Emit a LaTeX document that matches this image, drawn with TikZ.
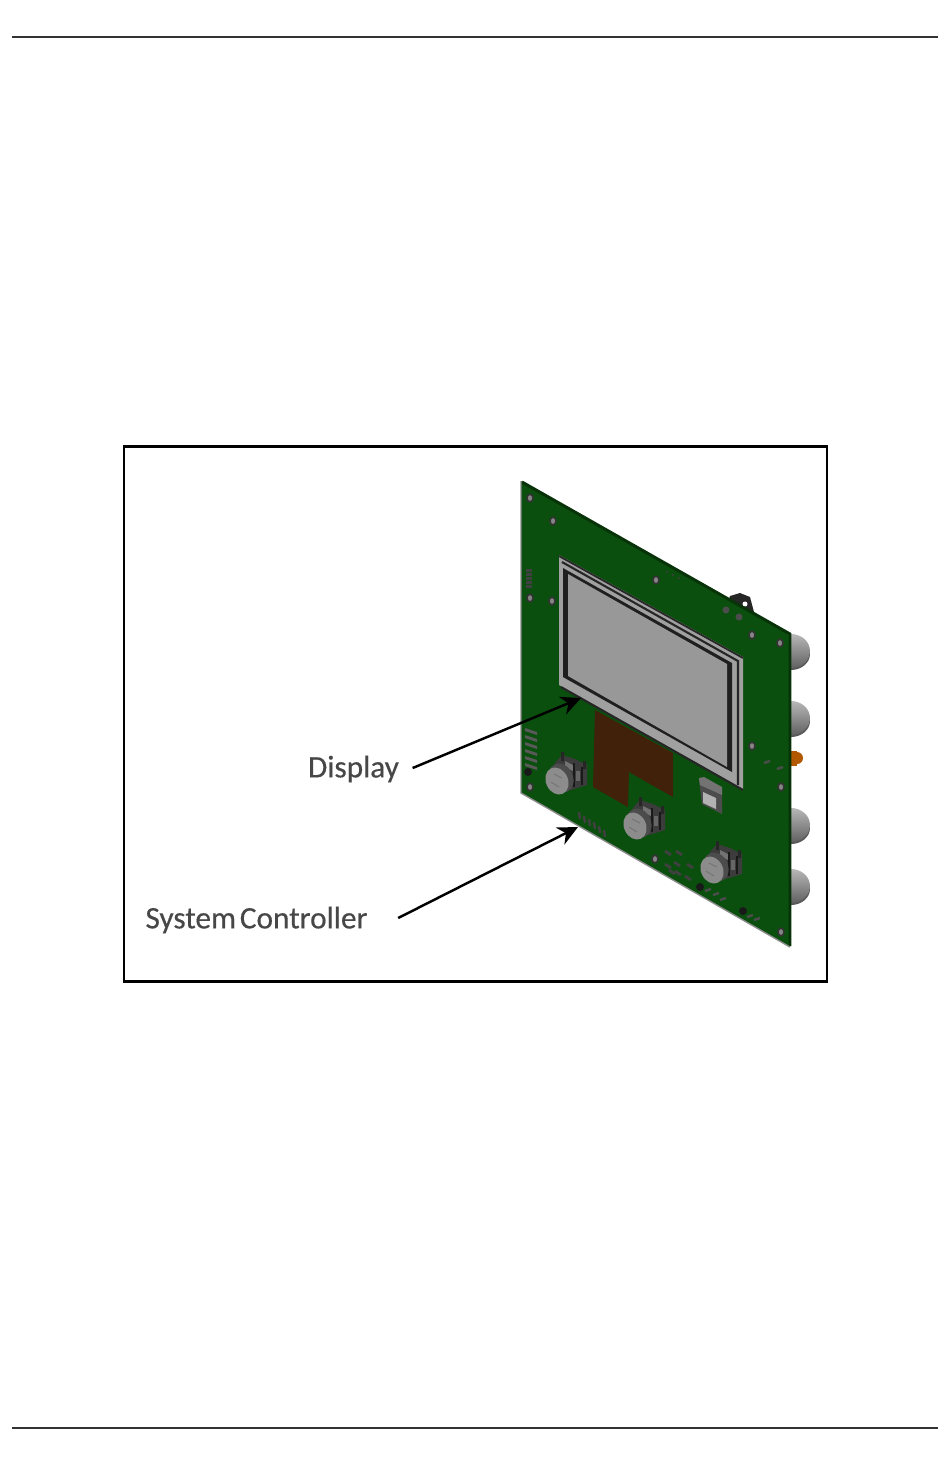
\documentclass[tikz,border=0pt]{standalone}
\usepackage{fontspec}
\setmainfont[WordSpace=0.55]{Carlito}
\usetikzlibrary{arrows.meta}
\definecolor{boardgreen}{HTML}{0A4F0E}
\definecolor{boardedge}{HTML}{083208}
\definecolor{flexbrown}{HTML}{41210A}
\definecolor{screengrey}{HTML}{989898}
\definecolor{framegrey}{HTML}{A0A0A0}
\definecolor{capgrey}{HTML}{8C8C8C}
\definecolor{bodygrey}{HTML}{3C3C3C}
\tikzset{
	rule/.style={draw=black!80, line width=0.3pt},
	callout/.style={draw=black, line width=0.7pt, -{Stealth[length=0.2cm, width=0.19cm]}},
	caption/.style={font=\fontsize{8.9pt}{10pt}\selectfont\addfontfeature{FakeBold=0.4}, text=black!72, inner sep=0pt},
	hole/.style={draw=black!80, fill=black!48, line width=0.45pt},
	smd/.style={fill=black!75},
	knob/.pic={
		% housing behind the cap
		\fill[bodygrey] (-2,-18) -- (5,-26) -- (18,-22) -- (30,-16) -- (30,4) -- (14,9) -- (0,8) -- cycle;
		\fill[black!85] (4,-29) rectangle (7,-20) (26,-20) rectangle (29,-12);
		\fill[black!55] (8,-20) -- (16,-16) -- (16,-10) -- (8,-14) -- cycle;
		\fill[black!60] (19,-10) rectangle (23,0);
		\fill[black!45] (12,-6) rectangle (15,2);
		\draw[black!90, line width=0.4pt] (17,-18) -- (17,6) (25,-14) -- (25,4);
		% cap
		\fill[black!70] (4,-3) ellipse [x radius=12, y radius=15, rotate=25];
		\fill[capgrey] (0,0) ellipse [x radius=11, y radius=14, rotate=25];
		\draw[black!55, line width=0.25pt] (-3,-7) -- (5,-3) (-6,1) -- (2,6);
	},
	bnc/.pic={
		\fill[black!65] (1,3) ellipse [x radius=19, y radius=16];
		\shade[top color=black!28, bottom color=black!62] (1,0) ellipse [x radius=19, y radius=17];
	},
}

\begin{document}
\begin{tikzpicture}[x=0.01cm, y=-0.01cm]
	\useasboundingbox (0,0) rectangle (950,1465);
	\fill[white] (0,0) rectangle (950,1465);
	\coordinate (ruleTopL) at (12,37);
	\coordinate (ruleTopR) at (938,37);
	\coordinate (ruleBotL) at (12,1428);
	\coordinate (ruleBotR) at (938,1428);
	\draw[rule] (ruleTopL) -- (ruleTopR);
	\draw[rule] (ruleBotL) -- (ruleBotR);
	\draw[black, line width=0.85pt] (124,446) rectangle (827,981);

	% connectors and jack behind the board
	\foreach \y in {651,718,825,886} {
		\pic at (790,\y) {bnc};
	}
	\fill[orange!70!black] (789,751) rectangle (797,766);
	\fill[orange!70!black] (797,758) circle (6);
	\fill[black!85] (727,606) -- (730,596) -- (740,593) -- (750,597) -- (754,612) -- (753,620) -- cycle;
	\fill[white] (745,604) circle (2.5);

	% board
	\fill[boardgreen] (521,481) -- (790,633) -- (790,947) -- (521,793) -- cycle;
	\draw[boardedge, line width=0.85pt] (522,482) -- (790,634) -- (790,946);
	\draw[black!45, line width=0.4pt] (521,481) -- (521,793) -- (790,947);

	% flex cable
	\fill[flexbrown] (595,710) -- (673,753) -- (673,797) -- (629,772) -- (628,807) -- (593,787) -- cycle;

	% display
	\fill[framegrey] (559,555) -- (743,657) -- (743,789) -- (559,685) -- cycle;
	\draw[black!85, line width=0.5pt] (559,556) -- (743,658);
	\draw[black!85, line width=0.6pt] (562,562) -- (738,661) -- (738,785);
	\fill[black!88] (563,568) -- (732,663) -- (732,772) -- (563,677) -- cycle;
	\fill[screengrey] (568,574) -- (727,664) -- (727,767) -- (568,676) -- cycle;
	\draw[black!85, line width=0.6pt] (561,687) -- (743,790);

	% mounting holes
	\foreach \x/\y in {530/498,553/521,530/598,552/601,656/580,752/635,780/643,752/746,781/787,530/787,655/859,781/932} {
		\draw[hole] (\x,\y) ellipse [x radius=3, y radius=3.8];
	}
	\foreach \x/\y in {726/610,739/617} {
		\fill[black!70] (\x,\y) circle (3.5);
	}
	\foreach \x/\y in {528/772,700/887,743/911} {
		\fill[black!90] (\x,\y) circle (4);
	}

	% small parts on the board
	\foreach \y in {569,573,577,581,585} {
		\fill[smd] (526,\y) rectangle (532,\y+2.5);
	}
	\foreach \x/\y in {667/572,673/575,679/578} {
		\fill[smd] (\x,\y) circle (1.2);
	}
	\foreach \y in {730,737,744,751,758,765} {
		\fill[black!65] (525,\y-2) -- (537,\y+2) -- (537,\y+5) -- (525,\y+1) -- cycle;
	}
	\foreach \x/\y in {767/762,780/768,708/890,716/894,723/899,750/916,757/919} {
		\draw[black!70, line width=0.7pt] (\x-3,\y+1) -- (\x+3,\y-1);
	}
	\foreach \x/\y in {668/853,679/853,668/866,677/864,690/866,678/873,688/878,672/872} {
		\draw[black!75, line width=0.8pt] (\x-3,\y-2) -- (\x+3,\y+2);
	}
	\foreach \x/\y in {579/816,584/820,589/823,594/826,599/830,604/834} {
		\draw[black!75, line width=0.7pt] (\x,\y-4) -- (\x+1,\y+3);
	}

	% small chip
	\fill[black!70] (699,779) -- (722,790) -- (722,814) -- (702,804) -- cycle;
	\fill[black!55] (699,778) -- (704,777) -- (722,787) -- (722,795) -- (700,785) -- cycle;
	\fill[black!30] (703,792) -- (716,798) -- (716,809) -- (703,803) -- cycle;

	% knobs
	\pic at (557,781) {knob};
	\pic at (635,826) {knob};
	\pic at (712,870) {knob};

	% labels and arrows
	\node[caption] (lblDisplay) at (353.5,769) {Display};
	\node[caption] (lblController) at (256.5,920) {System Controller};
	\coordinate (tipDisplay) at (581,698);
	\coordinate (tipController) at (578,827);
	\draw[callout] ([xshift=0.13cm,yshift=0.01cm]lblDisplay.east) -- (tipDisplay);
	\draw[callout] ([xshift=0.30cm,yshift=0.02cm]lblController.east) -- (tipController);
\end{tikzpicture}
\end{document}
